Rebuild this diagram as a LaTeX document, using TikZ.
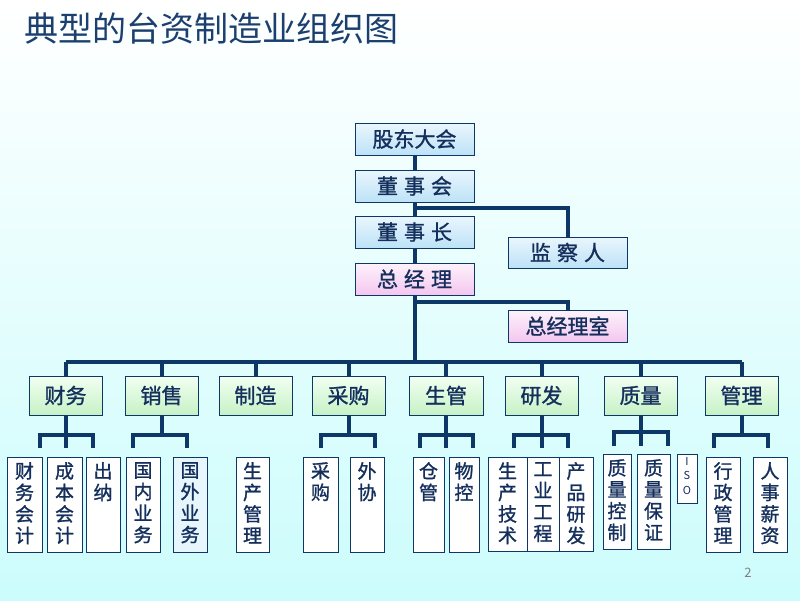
\documentclass[tikz,border=0pt]{standalone}
\usepackage{fontspec}
\setmainfont{Noto Sans CJK SC}
\newfontfamily\boxfont{Noto Sans CJK SC}[FakeBold=1.2]
\definecolor{navy}{HTML}{0D3766}
\definecolor{txt}{HTML}{142F5C}
\definecolor{ttl}{HTML}{1B3F6E}
\definecolor{bgbot}{HTML}{CCFCFC}
\definecolor{bgmid}{HTML}{F2FAFA}
\definecolor{bluetop}{HTML}{EAF6FD}
\definecolor{bluebot}{HTML}{BDE2F7}
\definecolor{pinktop}{HTML}{FDF2FB}
\definecolor{pinkbot}{HTML}{F4C6EF}
\definecolor{greentop}{HTML}{F2FFF2}
\definecolor{greenbot}{HTML}{C6F2C6}
\definecolor{lightblue}{HTML}{E6F6FC}
\newcommand{\bx}[7]{\node[#6, minimum width={#4-#2}, minimum height={#5-#3}] (#1) at ({(#2+#4)/2},{(#3+#5)/2}) {#7};}
\newcommand{\vbx}[7]{\node[#6, minimum width={#4-#2}, minimum height={#5-#3}] (#1) at ({(#2+#4)/2},{(#3+#5)/2}) {};
  \node[vtext, anchor=north] (#1t) at ({(#2+#4)/2},{#3+5}) {#7};}
\begin{document}
\begin{tikzpicture}[x=1pt,y=-1pt,
  base/.style={draw=navy, line width=0.9pt, inner sep=0pt, text=txt},
  bluebox/.style={base, top color=bluetop, bottom color=bluebot, font=\boxfont\fontsize{21}{24}\selectfont},
  pinkbox/.style={base, top color=pinktop, bottom color=pinkbot, font=\boxfont\fontsize{21}{24}\selectfont},
  greenbox/.style={base, top color=greentop, bottom color=greenbot, font=\boxfont\fontsize{21}{24}\selectfont},
  subbox/.style={base, fill=white},
  subblue/.style={base, fill=lightblue},
  vtext/.style={inner sep=0pt, text=txt, align=center, font=\boxfont\fontsize{19}{21.5}\selectfont},
  conn/.style={draw=navy, line width=4pt},
]
\useasboundingbox (0,0) rectangle (800,600);
\shade[top color=white, middle color=bgmid, bottom color=bgbot] (0,0) rectangle (800,600);

\node[anchor=west, text=ttl, font=\fontsize{34}{36}\selectfont, inner sep=0pt] (title) at (24,29) {典型的台资制造业组织图};
\node[text=gray, font=\fontsize{13}{14}\selectfont, inner sep=0pt] (pg) at (748,573) {2};

% top chain
\bx{gd}{355}{123}{474}{155}{bluebox}{股东大会}
\bx{dsh}{355}{170}{474}{202}{bluebox}{董\hspace{6pt}事\hspace{6pt}会}
\bx{dsz}{355}{216}{474}{248}{bluebox}{董\hspace{6pt}事\hspace{6pt}长}
\bx{zjl}{355}{263}{474}{295}{pinkbox}{总\hspace{6pt}经\hspace{6pt}理}
\bx{jcr}{508}{237}{627}{268}{bluebox}{监\hspace{6pt}察\hspace{6pt}人}
\bx{zjs}{508}{310}{627}{342}{pinkbox}{总经理室}

\coordinate (j1) at (0,208);
\coordinate (j2) at (0,302);
\coordinate (bus) at (0,362);

\draw[conn] (gd.south) -- (dsh.north);
\draw[conn] (dsh.south) -- (dsz.north);
\draw[conn] (dsz.south) -- (zjl.north);
\draw[conn] (zjl.south) -- (zjl.south |- bus);
\draw[conn] (dsh.south |- j1) -| (jcr.north);
\draw[conn] (zjl.south |- j2) -| (zjs.north);

% level 2
\bx{cw}{29}{376}{102}{415}{greenbox}{财务}
\bx{xs}{125}{376}{198}{415}{greenbox}{销售}
\bx{zz}{219}{376}{292}{415}{greenbox}{制造}
\bx{cg}{312}{376}{385}{415}{greenbox}{采购}
\bx{sg}{409}{376}{483}{415}{greenbox}{生管}
\bx{yf}{505}{376}{578}{415}{greenbox}{研发}
\bx{zl}{604}{376}{677}{415}{greenbox}{质量}
\bx{gl}{705}{376}{778}{415}{greenbox}{管理}

\draw[conn] (cw.north |- bus) -- (gl.north |- bus);
\foreach \n in {cw,xs,zz,cg,sg,yf,zl,gl} {\draw[conn] (\n.north |- bus) -- (\n.north);}

% level 3 boxes
\vbx{fk}{7}{457}{42}{552}{subbox}{财\\务\\会\\计}
\vbx{cbk}{47}{457}{82}{552}{subbox}{成\\本\\会\\计}
\vbx{cn}{86}{457}{120}{552}{subbox}{出\\纳}
\vbx{gn}{126}{457}{160}{552}{subbox}{国\\内\\业\\务}
\vbx{gw}{173}{457}{207}{552}{subblue}{国\\外\\业\\务}
\vbx{scg}{236}{457}{269}{552}{subbox}{生\\产\\管\\理}
\vbx{cgb}{303}{457}{338}{552}{subbox}{采\\购}
\vbx{wx}{350}{457}{384}{552}{subbox}{外\\协}
\vbx{cang}{413}{457}{444}{552}{subbox}{仓\\管}
\vbx{wk}{449}{457}{479}{552}{subbox}{物\\控}
\vbx{js}{488}{457}{527}{551}{subbox}{生\\产\\技\\术}
\vbx{gy}{527}{457}{559}{551}{subbox}{工\\业\\工\\程}
\vbx{cp}{559}{457}{593}{551}{subbox}{产\\品\\研\\发}
\vbx{zk}{603}{454}{631}{549}{subbox}{质\\量\\控\\制}
\vbx{zb}{637}{454}{670}{549}{subbox}{质\\量\\保\\证}
\bx{iso}{677}{454}{697}{503}{subbox}{}
\node[inner sep=0pt, text=txt, align=center, font=\fontsize{11}{14.5}\selectfont, anchor=north] (isot) at (687,457) {I\\S\\O};
\vbx{xzg}{706}{457}{740}{552}{subbox}{行\\政\\管\\理}
\vbx{rs}{753}{457}{787}{552}{subbox}{人\\事\\薪\\资}

% sub-buses
\coordinate (cwL) at (40,448); \coordinate (cwR) at (93,448);
\draw[conn] (cwL) |- (cwR |- 0,435) -- (cwR);
\draw[conn] (cw.south) -- (cw.south |- cwL);

\coordinate (xsL) at (133,448); \coordinate (xsR) at (187,448);
\draw[conn] (xsL) |- (xsR |- 0,435) -- (xsR);
\draw[conn] (xs.south) -- (xs.south |- 0,435);

\coordinate (cgL) at (321,448); \coordinate (cgR) at (375,448);
\draw[conn] (cgL) |- (cgR |- 0,435) -- (cgR);
\draw[conn] (cg.south) -- (cg.south |- 0,435);

\coordinate (sgL) at (420,448); \coordinate (sgR) at (473,448);
\draw[conn] (sgL) |- (sgR |- 0,435) -- (sgR);
\draw[conn] (sg.south) -- (sg.south |- sgL);

\coordinate (yfL) at (514,448); \coordinate (yfR) at (568,448);
\draw[conn] (yfL) |- (yfR |- 0,435) -- (yfR);
\draw[conn] (yf.south) -- (yf.south |- yfL);

\coordinate (zlL) at (614,446); \coordinate (zlR) at (668,446);
\draw[conn] (zlL) |- (zlR |- 0,432) -- (zlR);
\draw[conn] (zl.south) -- (zl.south |- zlL);

\coordinate (glL) at (714,448); \coordinate (glR) at (768,448);
\draw[conn] (glL) |- (glR |- 0,435) -- (glR);
\draw[conn] (gl.south) -- (gl.south |- 0,435);
\end{tikzpicture}
\end{document}
